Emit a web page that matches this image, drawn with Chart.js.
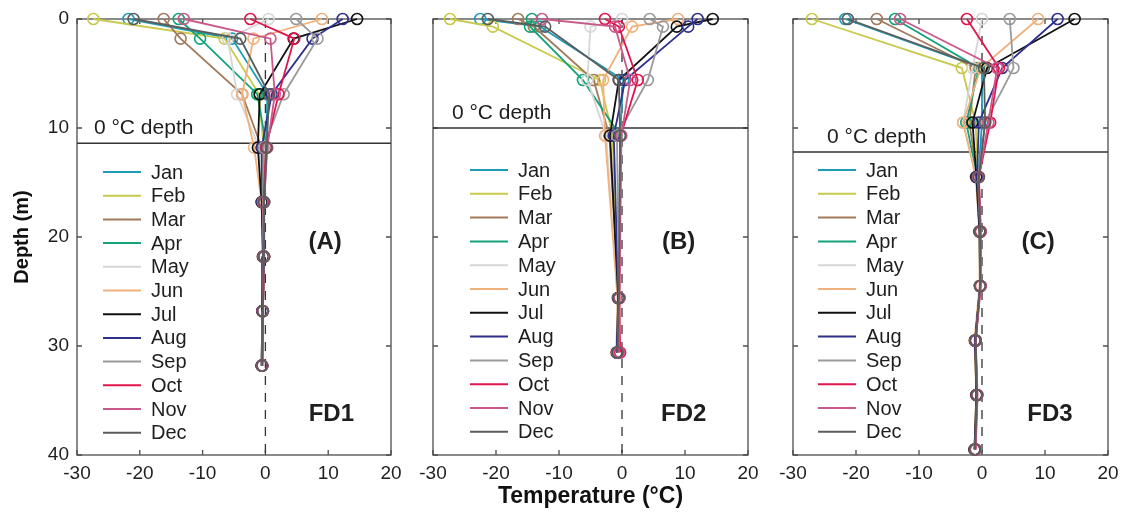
<!DOCTYPE html>
<html><head><meta charset="utf-8">
<script src="https://cdn.jsdelivr.net/npm/chart.js@4/dist/chart.umd.min.js"></script>
<style>
html,body{margin:0;padding:0;background:#fff;}
#wrap{position:relative;width:1131px;height:516px;overflow:hidden;background:#fff;}
canvas{position:absolute;top:0;}
</style></head><body>
<div id="wrap">
<canvas id="cA" width="415" height="516" style="left:0px;width:415px;height:516px"></canvas>
<canvas id="cB" width="375" height="516" style="left:400px;width:375px;height:516px"></canvas>
<canvas id="cC" width="371" height="516" style="left:760px;width:371px;height:516px"></canvas>
</div>
<script>
// ---------- data ----------
const months = ['Jan','Feb','Mar','Apr','May','Jun','Jul','Aug','Sep','Oct','Nov','Dec'];
const monthColors = ['#1f9db6','#c9c94c','#a27a5a','#12a37a','#d6d6d6','#f1b17c','#111111','#2f2f8e','#9a9a9a','#e0154d','#c9598b','#5c5c5c'];
const xTicks = [-30,-20,-10,0,10,20];
const yTicks = [0,10,20,30,40];
const zeroDepths = [11.4, 10.0, 12.2];
const siteNames = ['FD1','FD2','FD3'];
const panelLabels = ['(A)','(B)','(C)'];

const fd1Depths = [0, 1.8, 6.9, 11.8, 16.8, 21.8, 26.8, 31.8];
const fd1Temps = [
  [-21.8, -5.3,  0.3,  0.1, -0.3, -0.2, -0.4, -0.5],
  [-27.4, -6.5, -1.0, -0.3, -0.4, -0.2, -0.4, -0.5],
  [-16.2,-13.5, -3.7, -0.6, -0.4, -0.3, -0.4, -0.5],
  [-13.8,-10.4, -1.3,  0.2, -0.2, -0.2, -0.4, -0.5],
  [  0.5, -6.0, -4.5, -1.0, -0.5, -0.3, -0.4, -0.6],
  [  9.0, -1.9, -3.7, -1.8, -0.6, -0.4, -0.5, -0.6],
  [ 14.6,  4.5, -0.9, -1.2, -0.6, -0.4, -0.5, -0.6],
  [ 12.3,  7.5,  1.0, -0.6, -0.5, -0.3, -0.5, -0.6],
  [  4.9,  8.3,  2.9, -0.3, -0.4, -0.3, -0.4, -0.5],
  [ -2.4,  4.6,  2.1,  0.1, -0.3, -0.2, -0.4, -0.5],
  [-13.0,  0.8,  1.5,  0.3, -0.2, -0.2, -0.4, -0.5],
  [-21.0, -4.0,  0.6,  0.2, -0.2, -0.2, -0.4, -0.5]
];

const fd2Depths = [0, 0.7, 5.6, 10.7, 25.6, 30.6];
const fd2Temps = [
  [-22.5,-13.0,  0.2, -0.3, -0.5, -0.7],
  [-27.3,-20.5, -3.5, -1.5, -0.6, -0.8],
  [-16.5,-14.0, -4.5, -2.0, -0.6, -0.8],
  [-14.3,-14.6, -6.2, -0.3, -0.5, -0.7],
  [  0.0, -5.0, -5.5, -2.5, -0.7, -0.9],
  [  8.9,  1.6, -3.0, -2.7, -0.7, -0.9],
  [ 14.4,  8.7, -0.5, -1.9, -0.6, -0.8],
  [ 12.0, 10.5,  0.5, -1.3, -0.6, -0.8],
  [  4.4,  6.5,  4.1, -0.8, -0.5, -0.7],
  [ -2.7, -0.5,  2.5, -0.2, -0.4, -0.3],
  [-12.7, -1.1,  1.3, -0.1, -0.4, -0.5],
  [-21.3,-12.2, -0.5, -0.3, -0.5, -0.7]
];

const fd3Depths = [0, 4.5, 9.5, 14.5, 19.5, 24.5, 29.5, 34.5, 39.5];
const fd3Temps = [
  [-21.7,  0.0,  0.0, -0.6, -0.3, -0.3, -1.0, -0.8, -1.1],
  [-27.0, -3.2, -1.0, -0.7, -0.3, -0.3, -1.1, -0.8, -1.1],
  [-16.7, -1.0, -2.0, -0.8, -0.3, -0.3, -1.1, -0.8, -1.1],
  [-13.8, -0.5, -2.5, -0.8, -0.4, -0.3, -1.1, -0.9, -1.1],
  [  0.0, -1.5, -3.0, -0.9, -0.4, -0.3, -1.1, -0.9, -1.2],
  [  8.9, -0.2, -3.0, -1.0, -0.4, -0.4, -1.2, -0.9, -1.2],
  [ 14.7,  0.8, -1.5, -0.9, -0.4, -0.3, -1.1, -0.9, -1.2],
  [ 12.0,  3.2, -0.5, -0.8, -0.3, -0.3, -1.1, -0.8, -1.1],
  [  4.4,  5.0,  0.5, -0.6, -0.3, -0.3, -1.0, -0.8, -1.1],
  [ -2.4,  2.7,  1.3, -0.5, -0.2, -0.2, -1.0, -0.8, -1.0],
  [-13.0,  2.4,  1.0, -0.5, -0.2, -0.2, -1.0, -0.7, -1.0],
  [-21.3,  0.3,  0.5, -0.5, -0.3, -0.3, -1.0, -0.8, -1.1]
];

// ---------- rendering ----------
const FONT = '"Liberation Sans", Arial, Helvetica, sans-serif';
const TXT = '#1e1e1e';

const decor = {
  id: 'decor',
  beforeDatasetsDraw(chart, args, o) {
    const {ctx, chartArea: a, scales: {x, y}} = chart;
    ctx.save();
    ctx.strokeStyle = '#4d4d4d';
    ctx.lineWidth = 1.3;
    ctx.strokeRect(a.left, a.top, a.right - a.left, a.bottom - a.top);
    const L = 5;
    ctx.beginPath();
    xTicks.forEach(v => {
      const px = x.getPixelForValue(v);
      ctx.moveTo(px, a.bottom); ctx.lineTo(px, a.bottom - L);
      ctx.moveTo(px, a.top); ctx.lineTo(px, a.top + L);
    });
    yTicks.forEach(v => {
      const py = y.getPixelForValue(v);
      ctx.moveTo(a.left, py); ctx.lineTo(a.left + L, py);
      ctx.moveTo(a.right, py); ctx.lineTo(a.right - L, py);
    });
    ctx.stroke();
    ctx.restore();
  },
  afterDatasetsDraw(chart, args, o) {
    const {ctx, scales: {x, y}} = chart;
    ctx.save();
    const lg = o.legend;
    ctx.font = '20px ' + FONT;
    ctx.textBaseline = 'middle';
    ctx.textAlign = 'left';
    for (let i = 0; i < months.length; i++) {
      const ds = chart.data.datasets[i];
      const yy = lg.y0 + i * lg.dy;
      ctx.strokeStyle = ds.borderColor;
      ctx.lineWidth = 2;
      ctx.beginPath();
      ctx.moveTo(lg.x, yy); ctx.lineTo(lg.x + 38, yy);
      ctx.stroke();
      ctx.fillStyle = TXT;
      ctx.fillText(ds.label, lg.x + 48, yy + 1);
    }
    ctx.font = '21px ' + FONT;
    ctx.fillStyle = TXT;
    ctx.fillText('0 °C depth', x.getPixelForValue(o.zeroTextX), y.getPixelForValue(o.zero) - 15);
    ctx.font = 'bold 24px ' + FONT;
    ctx.textAlign = 'center';
    ctx.fillText(o.panel, x.getPixelForValue(o.panelX), y.getPixelForValue(20.5));
    ctx.fillText(o.site, x.getPixelForValue(o.siteX), y.getPixelForValue(36.3));
    ctx.restore();
  }
};

function makeChart(id, idx, depths, temps, layout) {
  const datasets = months.map((m, i) => ({
    label: m,
    data: depths.map((d, j) => ({x: temps[i][j], y: d})),
    showLine: true,
    borderColor: monthColors[i],
    backgroundColor: 'rgba(0,0,0,0)',
    pointBackgroundColor: 'rgba(0,0,0,0)',
    pointBorderColor: monthColors[i],
    borderWidth: 1.8,
    pointRadius: 5.5,
    pointBorderWidth: 1.6,
    clip: false,
    order: months.length - i
  }));
  datasets.push({
    label: 'zero-depth',
    data: [{x: xTicks[0], y: zeroDepths[idx]}, {x: xTicks[xTicks.length - 1], y: zeroDepths[idx]}],
    showLine: true, borderColor: '#333', borderWidth: 1.4, pointRadius: 0, order: 50
  });
  datasets.push({
    label: 'zero-temp',
    data: [{x: 0, y: yTicks[0]}, {x: 0, y: yTicks[yTicks.length - 1]}],
    showLine: true, borderColor: '#333', borderWidth: 1.3, borderDash: [9, 8], pointRadius: 0, order: 50
  });

  const first = idx === 0, mid = idx === 1;
  return new Chart(document.getElementById(id), {
    type: 'scatter',
    data: {datasets},
    plugins: [decor],
    options: {
      responsive: false,
      animation: false,
      devicePixelRatio: 1,
      events: [],
      layout: {padding: {top: 19, right: layout.padRight, bottom: 0, left: 0}},
      plugins: {
        legend: {display: false},
        tooltip: {enabled: false},
        decor: {
          legend: layout.legend,
          zero: zeroDepths[idx],
          zeroTextX: layout.zeroTextX,
          panel: panelLabels[idx], panelX: layout.panelX,
          site: siteNames[idx], siteX: layout.siteX
        }
      },
      scales: {
        x: {
          type: 'linear', position: 'bottom',
          min: xTicks[0], max: xTicks[xTicks.length - 1],
          ticks: {stepSize: 10, autoSkip: false, maxRotation: 0, padding: 7,
                  font: {family: FONT, size: 19}, color: TXT},
          grid: {display: true, drawOnChartArea: false, drawTicks: false},
          border: {display: false},
          title: {display: mid, text: 'Temperature (°C)', color: '#111',
                  font: {family: FONT, size: 23, weight: 'bold'}, padding: {top: 0, bottom: 6}},
          afterFit(s) { s.height = 61; s.paddingLeft = 0; s.paddingRight = 0; }
        },
        y: {
          type: 'linear', position: 'left', reverse: true,
          min: yTicks[0], max: yTicks[yTicks.length - 1],
          ticks: {display: first, stepSize: 10, padding: 8,
                  font: {family: FONT, size: 19}, color: TXT},
          grid: {display: true, drawOnChartArea: false, drawTicks: false},
          border: {display: false},
          title: {display: first, text: 'Depth (m)', color: '#111',
                  font: {family: FONT, size: 20, weight: 'bold'}, padding: {top: 10, bottom: 0}},
          afterFit(s) { s.width = layout.yWidth; s.paddingTop = 0; s.paddingBottom = 0; }
        }
      }
    }
  });
}

makeChart('cA', 0, fd1Depths, fd1Temps, {
  yWidth: 77, padRight: 24, zeroTextX: -27.3, panelX: 9.5, siteX: 10.5,
  legend: {x: 103, y0: 172, dy: 23.7}
});
makeChart('cB', 1, fd2Depths, fd2Temps, {
  yWidth: 33, padRight: 27, zeroTextX: -27.0, panelX: 9.0, siteX: 9.8,
  legend: {x: 70, y0: 170, dy: 23.8}
});
makeChart('cC', 2, fd3Depths, fd3Temps, {
  yWidth: 33, padRight: 23, zeroTextX: -24.6, panelX: 8.9, siteX: 10.8,
  legend: {x: 58, y0: 170, dy: 23.8}
});
</script>
</body></html>
